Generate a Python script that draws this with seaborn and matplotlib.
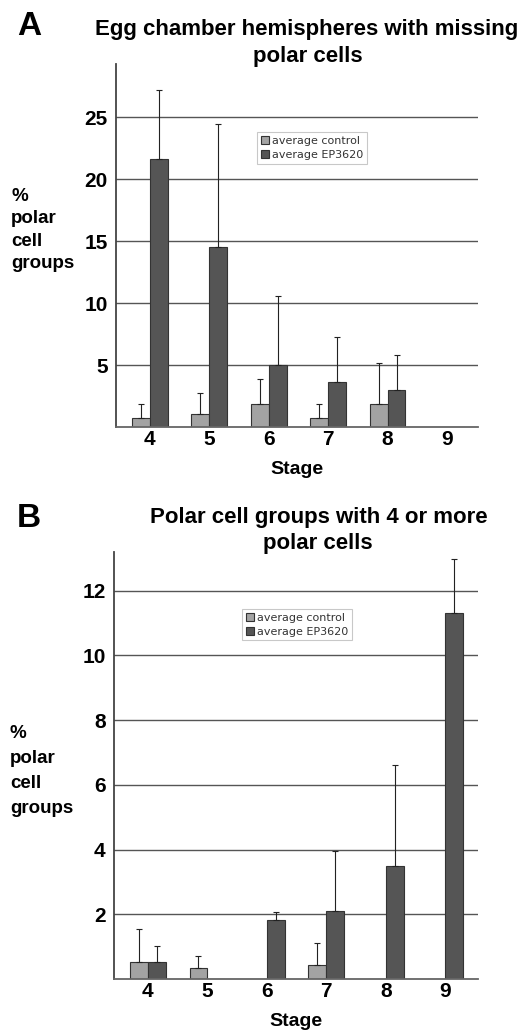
import matplotlib
matplotlib.use("Agg")
import matplotlib.pyplot as plt
import matplotlib.patches as mpatches
import seaborn as sns
import pandas as pd
import numpy as np

# Werte
stages = ["4", "5", "6", "7", "8", "9"]
groups = ["average control", "average EP3620"]

a_control = [0.73, 1.05, 1.9, 0.73, 1.9, 0.0]
a_control_err = [1.15, 1.7, 2.0, 1.15, 3.3, 0.0]
a_ep = [21.6, 14.5, 5.0, 3.6, 3.0, 0.0]
a_ep_err = [5.6, 10.0, 5.6, 3.7, 2.8, 0.0]

b_control = [0.52, 0.33, 0.0, 0.43, 0.0, 0.0]
b_control_err = [1.03, 0.38, 0.0, 0.69, 0.0, 0.0]
b_ep = [0.52, 0.0, 1.82, 2.1, 3.5, 11.3]
b_ep_err = [0.5, 0.0, 0.24, 1.87, 3.1, 1.67]

a_yticks = [5, 10, 15, 20, 25]
b_yticks = [2, 4, 6, 8, 10, 12]

colors = ["#a3a3a3", "#555555"]

sns.set_theme(style="white")
plt.rcParams["font.family"] = ["Liberation Sans", "DejaVu Sans"]
plt.rcParams["text.color"] = "black"
plt.rcParams["axes.labelcolor"] = "black"
plt.rcParams["xtick.color"] = "black"
plt.rcParams["ytick.color"] = "black"


def make_df(ctrl, ep):
    return pd.DataFrame({
        "Stage": stages * 2,
        "group": [groups[0]] * len(stages) + [groups[1]] * len(stages),
        "value": list(ctrl) + list(ep),
    })


def draw_panel(ax, df, errs, yticks, ylim, xlim, legend_pos):
    sns.barplot(data=df, x="Stage", y="value", hue="group", order=stages,
                hue_order=groups, palette=colors, width=0.6, ax=ax,
                edgecolor="#333333", linewidth=0.8, saturation=1, legend=False)
    # Fehlerbalken nur nach oben
    for cont, err in zip(ax.containers, errs):
        xs, ys, es = [], [], []
        for bar, e in zip(cont, err):
            if e > 0:
                xs.append(bar.get_x() + bar.get_width() / 2)
                ys.append(bar.get_height())
                es.append(e)
        es = np.array(es)
        ax.errorbar(xs, ys, yerr=[np.zeros_like(es), es], fmt="none",
                    ecolor="#222222", elinewidth=0.8, capsize=2.5, capthick=0.8)
    ax.set_ylim(*ylim)
    ax.set_xlim(*xlim)
    ax.set_yticks(yticks)
    ax.set_yticklabels([str(t) for t in yticks], fontsize=15, fontweight="bold")
    ax.set_xticks(range(len(stages)))
    ax.set_xticklabels(stages, fontsize=15, fontweight="bold")
    ax.yaxis.grid(True, color="#555555", linewidth=1)
    ax.set_axisbelow(True)
    ax.tick_params(axis="both", length=0, pad=6)
    ax.tick_params(axis="x", pad=2)
    for s in ["top", "right"]:
        ax.spines[s].set_visible(False)
    ax.spines["left"].set_color("#444444")
    ax.spines["left"].set_linewidth(1.3)
    ax.spines["bottom"].set_color("#666666")
    ax.spines["bottom"].set_linewidth(1.3)
    ax.set_ylabel("")
    ax.set_xlabel("Stage", fontsize=14, fontweight="bold", labelpad=9)
    handles = [mpatches.Patch(facecolor=c, edgecolor="#333333", linewidth=0.8, label=g)
               for c, g in zip(colors, groups)]
    leg = ax.legend(handles=handles, loc="upper left", bbox_to_anchor=legend_pos,
                    fontsize=8, frameon=True, fancybox=False, handlelength=0.7,
                    handleheight=0.7, handletextpad=0.3, borderpad=0.35,
                    labelspacing=0.35, borderaxespad=0)
    leg.get_frame().set_edgecolor("#bbbbbb")
    leg.get_frame().set_linewidth(0.8)
    for t in leg.get_texts():
        t.set_color("#333333")
        t.set_family("DejaVu Sans")


fig = plt.figure(figsize=(5.22, 10.34), dpi=100)
ax_a = fig.add_axes([0.2222, 0.587, 0.6935, 0.351])
ax_b = fig.add_axes([0.2184, 0.0532, 0.697, 0.413])

draw_panel(ax_a, make_df(a_control, a_ep), [a_control_err, a_ep_err],
           a_yticks, (0, 29.3), (-0.57, 5.52), (0.39, 0.813))
draw_panel(ax_b, make_df(b_control, b_ep), [b_control_err, b_ep_err],
           b_yticks, (0, 13.2), (-0.57, 5.55), (0.352, 0.867))

H = 1034.0
W = 522.0


def ftext(x, y, s, **kw):
    fig.text(x / W, 1 - y / H, s, **kw)


ftext(29, 35, "A", fontsize=24, fontweight="bold", ha="center", va="baseline")
ftext(307, 35, "Egg chamber hemispheres with missing", fontsize=16, fontweight="bold",
      ha="center", va="baseline")
ftext(308, 62, "polar cells", fontsize=16, fontweight="bold", ha="center", va="baseline")
ftext(29, 527, "B", fontsize=24, fontweight="bold", ha="center", va="baseline")
ftext(319, 523, "Polar cell groups with 4 or more", fontsize=16, fontweight="bold",
      ha="center", va="baseline")
ftext(318, 549, "polar cells", fontsize=16, fontweight="bold", ha="center", va="baseline")

ftext(11, 230, "%\npolar\ncell\ngroups", fontsize=13.5, fontweight="bold",
      ha="left", va="center", linespacing=1.43)
ftext(10, 771, "%\npolar\ncell\ngroups", fontsize=13.5, fontweight="bold",
      ha="left", va="center", linespacing=1.59)

fig.savefig("out.png", dpi=100)
